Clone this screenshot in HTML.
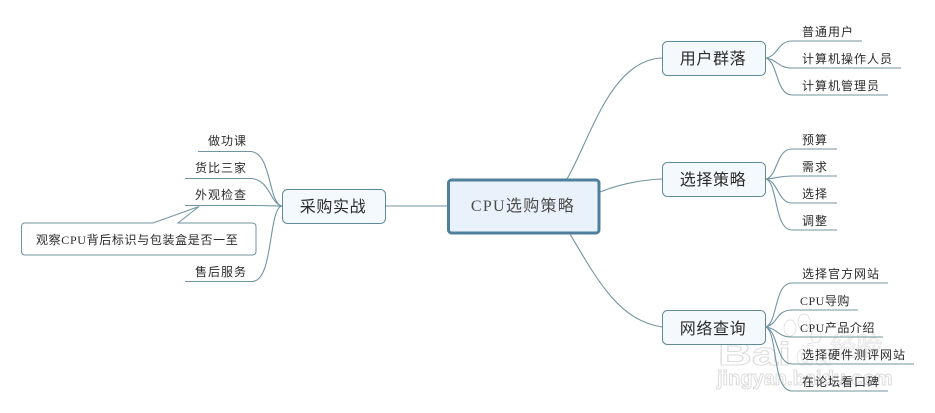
<!DOCTYPE html>
<html><head><meta charset="utf-8"><style>
html,body{margin:0;padding:0;background:#fff;width:935px;height:413px;overflow:hidden}
svg{display:block}
text{font-family:"Liberation Serif","WenQuanYi Zen Hei","Noto Sans CJK SC",sans-serif;fill:#2b2b2b}
.l{font-size:12px;letter-spacing:1px}
.n{font-size:16px;letter-spacing:.6px;text-anchor:middle}
.c{fill:none;stroke:#6f94a2;stroke-width:1.1}
.b{fill:#f4f9fd;stroke:#5f8a99;stroke-width:1}
</style></head><body>
<svg width="935" height="413" viewBox="0 0 935 413" xmlns="http://www.w3.org/2000/svg">
<!-- watermark -->
<g fill="#fff" stroke="#e2e2e2" stroke-width="1">
<text x="718" y="365" textLength="73" lengthAdjust="spacingAndGlyphs" style="font-family:'Liberation Sans',sans-serif;font-size:32px;font-weight:bold;fill:#fff;stroke:#dedede">Bai</text>
<text x="796" y="365" textLength="36" lengthAdjust="spacingAndGlyphs" style="font-family:'Liberation Sans',sans-serif;font-size:30px;font-weight:bold;fill:#fff;stroke:#e6e6e6">du</text>
<text x="717" y="385" style="font-family:'Liberation Sans',sans-serif;font-size:20px;font-weight:bold;fill:#fff;stroke:#dcdcdc">jingyan.baidu.com</text>
<text x="830" y="356" style="font-size:26px;fill:#fff;stroke:#e6e6e6">经验</text>
<ellipse cx="790" cy="328" rx="6" ry="8"/><ellipse cx="804" cy="322" rx="6" ry="8"/><ellipse cx="816" cy="336" rx="5" ry="7"/>
</g>
<!-- central connectors -->
<path class="c" d="M567 179C590 140 610 60 662 58"/>
<path class="c" d="M600 192C620 184 640 180 662 179"/>
<path class="c" d="M570 234C600 285 620 320 662 327"/>
<path class="c" d="M385 206H448"/>
<!-- branches -->
<g class="c">
<path class="c" d="M766 58C778 56 778 41 792 41H862"/>
<path class="c" d="M766 58C778 60 778 68 792 68H901"/>
<path class="c" d="M766 58C778 62 776 95 792 95H888"/>
<path class="c" d="M766 179C778 176 776 149 792 149H837"/>
<path class="c" d="M766 179C778 178 780 176 792 176H837"/>
<path class="c" d="M766 179C778 181 778 203 792 203H837"/>
<path class="c" d="M766 179C778 183 774 230 792 230H837"/>
<path class="c" d="M766 327C778 322 774 283 792 283H888"/>
<path class="c" d="M766 327C778 324 776 310 792 310H858"/>
<path class="c" d="M766 327C778 329 778 337 792 337H883"/>
<path class="c" d="M766 327C778 331 776 364 792 364H914"/>
<path class="c" d="M766 327C778 333 772 391 792 391H888"/>
<path class="c" d="M282 206C268 204 272 151.500 250 151.500H198"/>
<path class="c" d="M282 206C270 204 270 178.500 250 178.500H185"/>
<path class="c" d="M282 206C272 206 270 205.500 250 205.500H185"/>
<path class="c" d="M282 206C268 208 274 281.500 252 281.500H185"/>
</g>
<!-- callout -->
<path d="M25 223H153L199 206.500L178 223H252Q256 223 256 227V251Q256 255 252 255H25Q21.500 255 21.500 251V227Q21.500 223 25 223Z" fill="#fff" stroke="#6f94a2" stroke-width="1"/>
<!-- nodes -->
<rect x="448.500" y="180" width="150.500" height="53" rx="3" fill="#e9f2fa" stroke="#4f7f9c" stroke-width="3"/>
<rect class="b" x="282.500" y="189.500" width="103" height="34" rx="5"/>
<rect class="b" x="662.500" y="41.500" width="103" height="34" rx="5"/>
<rect class="b" x="662.500" y="162.500" width="103" height="34" rx="5"/>
<rect class="b" x="662.500" y="310.500" width="103" height="34" rx="5"/>
<!-- labels -->
<text x="523" y="211" class="n" style="fill:#4c4c4c;letter-spacing:1.3px">CPU选购策略</text>
<text x="333" y="212" class="n">采购实战</text>
<text x="713" y="64" class="n">用户群落</text>
<text x="713" y="185" class="n">选择策略</text>
<text x="713" y="334" class="n">网络查询</text>
<text x="802" y="36" class="l">普通用户</text>
<text x="802" y="63" class="l">计算机操作人员</text>
<text x="802" y="90" class="l">计算机管理员</text>
<text x="802" y="144" class="l">预算</text>
<text x="802" y="171" class="l">需求</text>
<text x="802" y="198" class="l">选择</text>
<text x="802" y="225" class="l">调整</text>
<text x="802" y="278" class="l">选择官方网站</text>
<text x="800" y="305" class="l" style="letter-spacing:.5px">CPU导购</text>
<text x="800" y="332" class="l" style="letter-spacing:.5px">CPU产品介绍</text>
<text x="802" y="359" class="l">选择硬件测评网站</text>
<text x="802" y="386" class="l">在论坛看口碑</text>
<text x="208" y="145" class="l">做功课</text>
<text x="195" y="172" class="l">货比三家</text>
<text x="195" y="199" class="l">外观检查</text>
<text x="195" y="276" class="l">售后服务</text>
<text x="36" y="244" class="l" style="letter-spacing:.65px">观察CPU背后标识与包装盒是否一至</text>
</svg>
</body></html>
